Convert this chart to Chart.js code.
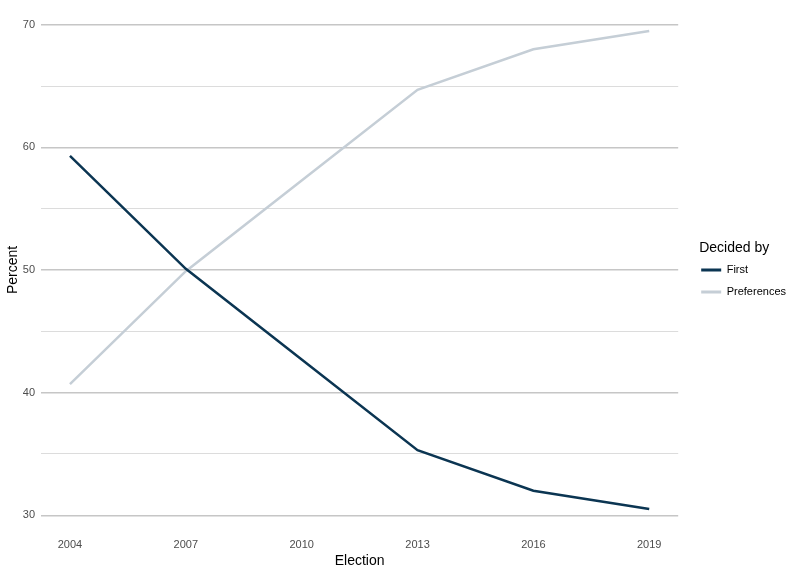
<!DOCTYPE html>
<html>
<head>
<meta charset="utf-8">
<script src="https://cdn.jsdelivr.net/npm/chart.js@4/dist/chart.umd.min.js"></script>
<style>
  html, body { margin: 0; padding: 0; background: #fff; }
  #wrap { width: 800px; height: 574px; }
</style>
</head>
<body>
<div id="wrap"><canvas id="chart" width="800" height="574"></canvas></div>
<script>
const elections = [2004, 2007, 2010, 2013, 2016, 2019];
const firstPct = [59.3, 50.1, 42.7, 35.3, 32.0, 30.5];
const preferencesPct = [40.7, 49.9, 57.3, 64.7, 68.0, 69.5];
const yTicks = [30, 35, 40, 45, 50, 55, 60, 65, 70];

const toPoints = (values) => elections.map((year, i) => ({ x: year, y: values[i] }));

// ggplot-ish grid: darker lines on the labelled ticks, lighter in between
const isMajor = (c) => c.tick && c.tick.value % 10 === 0;

const ctx = document.getElementById('chart');
new Chart(ctx, {
    type: 'line',
    data: {
        datasets: [
            {
                label: 'First',
                data: toPoints(firstPct),
                borderColor: '#0b3552',
                backgroundColor: '#0b3552',
                borderWidth: 2.5,
                pointRadius: 0,
                tension: 0,
            },
            {
                label: 'Preferences',
                data: toPoints(preferencesPct),
                borderColor: '#c5ced6',
                backgroundColor: '#c5ced6',
                borderWidth: 2.5,
                pointRadius: 0,
                tension: 0,
            },
        ],
    },
    options: {
        responsive: false,
        animation: false,
        devicePixelRatio: 1,
        layout: { padding: { top: 0, right: 4, bottom: 0, left: 1 } },
        plugins: {
            tooltip: { enabled: false },
            legend: {
                position: 'right',
                align: 'start',
                title: {
                    display: true,
                    text: 'Decided by',
                    position: 'start',
                    color: '#000',
                    font: { family: 'Liberation Sans', size: 14 },
                    // pushes the legend block down to the middle of the panel
                    padding: { top: 241, bottom: 4.7 },
                },
                labels: {
                    color: '#000',
                    font: { family: 'Liberation Sans', size: 11, lineHeight: '20px' },
                    boxWidth: 20,
                    boxHeight: 3,
                    padding: 2,
                    generateLabels(chart) {
                        const items = Chart.defaults.plugins.legend.labels.generateLabels(chart);
                        items.forEach((item) => {
                            item.lineWidth = 0;
                            item.text = [item.text];
                        });
                        return items;
                    },
                },
            },
        },
        scales: {
            x: {
                type: 'linear',
                min: 2003.25,
                max: 2019.75,
                afterBuildTicks(axis) {
                    axis.ticks = elections.map((v) => ({ value: v }));
                },
                afterFit(scale) { scale.height = 41; },
                grid: { display: false, drawTicks: false },
                border: { display: false },
                ticks: {
                    color: '#4d4d4d',
                    font: { family: 'Liberation Sans', size: 11 },
                    padding: 5,
                    maxRotation: 0,
                    callback: (v) => String(v),
                },
                title: {
                    display: true,
                    text: 'Election',
                    color: '#000',
                    font: { family: 'Liberation Sans', size: 14 },
                    padding: { top: 0, bottom: 4 },
                },
            },
            y: {
                min: 28.55,
                max: 71.45,
                afterBuildTicks(axis) {
                    axis.ticks = yTicks.map((v) => ({ value: v }));
                },
                afterFit(scale) {
                    scale.width = 40;
                    scale.paddingTop = 7;
                },
                grid: {
                    drawTicks: false,
                    color: (c) => (isMajor(c) ? '#c6c6c6' : '#dcdcdc'),
                    lineWidth: (c) => (isMajor(c) ? 1.4 : 1.1),
                },
                border: { display: false },
                ticks: {
                    color: '#4d4d4d',
                    font: { family: 'Liberation Sans', size: 11 },
                    padding: 6,
                    callback: (v) => (v % 10 === 0 ? String(v) : ''),
                },
                title: {
                    display: true,
                    text: 'Percent',
                    color: '#000',
                    font: { family: 'Liberation Sans', size: 14 },
                    padding: { top: 4, bottom: 0 },
                },
            },
            // empty spacer between the panel and the legend
            gap: {
                type: 'linear',
                position: 'right',
                display: true,
                afterFit(scale) { scale.width = 21; },
                grid: { display: false, drawTicks: false },
                border: { display: false },
                ticks: { display: false },
            },
        },
    },
});
</script>
</body>
</html>
